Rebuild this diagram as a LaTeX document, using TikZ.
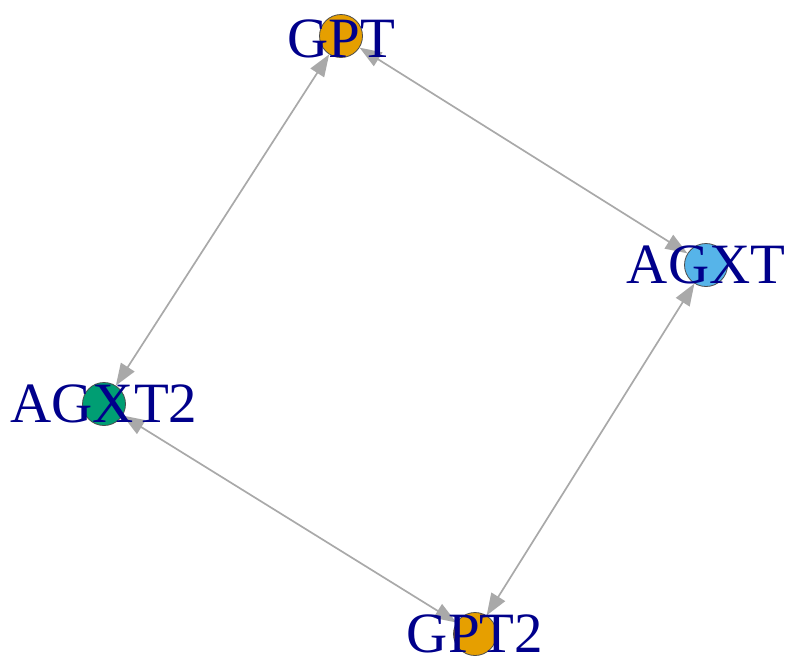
\documentclass[tikz,border=0pt]{standalone}
\usepackage{fontspec}
\setmainfont{Liberation Serif}
\usetikzlibrary{arrows.meta}
\definecolor{Orange}{HTML}{E69F00}
\definecolor{SkyBlue}{HTML}{56B4E9}
\definecolor{Green}{HTML}{009E73}
\definecolor{Label}{HTML}{00008B}
\definecolor{Edge}{HTML}{A9A9A9}
\tikzset{
    vertex/.style={circle, draw=black!70, line width=0.8pt, minimum size=43pt, inner sep=0pt},
    vlabel/.style={text=Label, font=\fontsize{57}{60}\selectfont, text height=37pt, text depth=0pt, inner sep=0pt},
    link/.style={{Triangle[length=22pt, width=16pt]}-{Triangle[length=22pt, width=16pt]}, color=Edge, line width=1.7pt},
}

\begin{document}
\begin{tikzpicture}[x=1pt, y=-1pt]
    \useasboundingbox (0,0) rectangle (791,667);

    % vertici
    \node[vertex, fill=Orange] (gpt) at (341,36) {};
    \node[vertex, fill=SkyBlue] (agxt) at (706,265) {};
    \node[vertex, fill=Green] (agxt2) at (104,404) {};
    \node[vertex, fill=Orange] (gpt2) at (475,634) {};

    % archi
    \draw[link] (gpt) -- (agxt2);
    \draw[link] (gpt) -- (agxt);
    \draw[link] (agxt) -- (gpt2);
    \draw[link] (agxt2) -- (gpt2);

    % etichette
    \node[vlabel] at ([yshift=-3pt]gpt.center) {GPT};
    \node[vlabel] at (agxt.center) {AGXT};
    \node[vlabel] at (agxt2.center) {AGXT2};
    \node[vlabel] at (gpt2.center) {GPT2};
\end{tikzpicture}
\end{document}
